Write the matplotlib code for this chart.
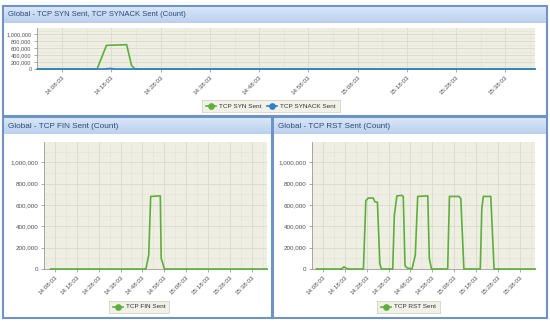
import matplotlib
matplotlib.use("Agg")
import matplotlib.pyplot as plt
import numpy as np
from matplotlib.patches import Rectangle
from matplotlib.colors import LinearSegmentedColormap

W, H = 550, 329

# ---------------- data (minutes after 14:08:03) ----------------
tick_labels = ["14:08:03", "14:18:03", "14:28:03", "14:38:03", "14:48:03",
               "14:58:03", "15:08:03", "15:18:03", "15:28:03", "15:38:03"]
tick_minutes = [0, 10, 20, 30, 40, 50, 60, 70, 80, 90]

syn_t = [-5, 7.1, 9.0, 11.0, 13.1, 14.1, 14.8, 96]
syn_v = [0, 0, 680000, 690000, 700000, 100000, 0, 0]
synack_t = [-5, 8.6, 9.7, 10.8, 96]
synack_v = [0, 0, 15000, 0, 0]

fin_t = [-2, 41.6, 42.9, 43.8, 48.2, 48.6, 50.1, 97]
fin_v = [0, 0, 130000, 680000, 685000, 100000, 0, 0]

rst_t = [-3, 8.5, 9.6, 11.0, 12.0, 18.5, 19.6, 20.7, 23.0, 23.7, 24.9, 26.0, 26.7,
         31.9, 32.6, 33.8, 36.0, 36.7, 37.5, 38.5, 40.7, 42.2, 43.3, 47.9, 48.6, 49.6,
         57.0, 57.8, 62.2, 63.0, 64.4, 71.9, 72.6, 73.3, 76.7, 78.2, 97]
rst_v = [0, 0, 20000, 3000, 0, 0, 640000, 665000, 665000, 630000, 625000, 50000, 0,
         0, 500000, 685000, 690000, 680000, 30000, 10000, 0, 130000, 680000, 685000, 100000, 0,
         0, 680000, 680000, 660000, 0, 0, 570000, 680000, 680000, 0, 0]

y_ticks = [0, 200000, 400000, 600000, 800000, 1000000]
y_labels = ["0", "200,000", "400,000", "600,000", "800,000", "1,000,000"]

GREEN = "#5FAE3C"
BLUE = "#2F7FC8"
BG = "#EEEEE3"
GRID = "#D9D9CC"
BORDER = "#6E93C6"
TITLE_C = "#2A4A78"
TICK_C = "#505050"
FONT = "Liberation Sans"

fig = plt.figure(figsize=(W / 100, H / 100), dpi=100)
fig.patch.set_facecolor("white")
renderer = fig.canvas.get_renderer()


def px_axes(x, y, w, h, **kw):
    return fig.add_axes([x / W, 1 - (y + h) / H, w / W, h / H], **kw)


def fit_text(t, target_px):
    bb = t.get_window_extent(renderer=renderer)
    t.set_fontsize(t.get_fontsize() * target_px / bb.width)


def panel(x, y, w, h, title, title_px):
    fig.patches.append(Rectangle((x / W, 1 - (y + h) / H), w / W, h / H,
                                 transform=fig.transFigure, facecolor="none",
                                 edgecolor=BORDER, linewidth=1.5, zorder=-5))
    tb = px_axes(x + 1, y + 1, w - 2, 16)
    grad = np.linspace(0, 1, 50).reshape(-1, 1)
    cm = LinearSegmentedColormap.from_list("tb", ["#D8E6F8", "#BAD0EE"])
    tb.imshow(grad, aspect="auto", cmap=cm, extent=[0, 1, 0, 1])
    tb.set_axis_off()
    t = tb.text(4 / (w - 2), 0.5, title, transform=tb.transAxes, fontsize=6.5,
                color=TITLE_C, va="center", ha="left", family=FONT)
    fit_text(t, title_px)


def chart(x, y, w, h, xlim, ylim, series, ylabel_fs=4.5):
    ax = px_axes(x, y, w, h)
    ax.set_facecolor(BG)
    for t, v, c in series:
        ax.plot(t, v, color=c, lw=1.2, zorder=3, solid_joinstyle="round", clip_on=False)
    ax.set_xlim(*xlim)
    ax.set_ylim(*ylim)
    ax.set_xticks(tick_minutes)
    ax.set_xticklabels(tick_labels, rotation=45, ha="right", rotation_mode="anchor",
                       fontsize=4.5, color=TICK_C, family=FONT)
    ax.set_yticks(y_ticks)
    ax.set_yticklabels(y_labels, fontsize=ylabel_fs, color=TICK_C, family=FONT)
    ax.set_yticks(np.arange(100000, 1200000, 200000), minor=True)
    ax.set_xticks(np.arange(-5, 100, 5), minor=True)
    ax.grid(True, which="major", color=GRID, lw=0.6)
    ax.grid(True, which="minor", color="#E3E3D8", lw=0.4)
    ax.tick_params(which="major", length=2.5, width=0.5, color="#888888", pad=1.5)
    ax.tick_params(which="minor", length=0)
    for s in ["top", "right"]:
        ax.spines[s].set_visible(False)
    ax.spines["left"].set_color("#9A9A9A")
    ax.spines["left"].set_linewidth(0.6)
    ax.spines["bottom"].set_color("#9A9A9A")
    ax.spines["bottom"].set_linewidth(0.6)
    return ax


def legend_box(cx, cy, items, fs=4.6):
    widths = []
    for label, _ in items:
        tt = fig.text(0, 0, label, fontsize=fs, family=FONT)
        widths.append(tt.get_window_extent(renderer=renderer).width)
        tt.remove()
    total = sum(13 + wd + 5 for wd in widths) + 3
    lax = px_axes(cx - total / 2, cy - 6, total, 12)
    lax.set_xlim(0, total)
    lax.set_ylim(0, 12)
    lax.set_facecolor("#F1F1E8")
    for s in lax.spines.values():
        s.set_color("#D3D3C8")
        s.set_linewidth(0.6)
    lax.set_xticks([])
    lax.set_yticks([])
    xpos = 4
    for (label, c), wd in zip(items, widths):
        lax.plot([xpos, xpos + 10], [6, 6], color=c, lw=1.2)
        lax.plot([xpos + 5], [6], marker="o", ms=3.8, color=c, mec=c)
        lax.text(xpos + 13, 6, label, fontsize=fs, color="#333333", va="center",
                 ha="left", family=FONT)
        xpos += 13 + wd + 5


# ---------------- panels ----------------
panel(3, 6, 544, 110, "Global - TCP SYN Sent, TCP SYNACK Sent (Count)", 178)
panel(3, 117, 269, 201, "Global - TCP FIN Sent (Count)", 110)
panel(273, 117, 274, 201, "Global - TCP RST Sent (Count)", 111)

chart(37, 28, 498, 41, (-5.1, 96), (0, 1180000),
      [(syn_t, syn_v, GREEN), (synack_t, synack_v, BLUE)], ylabel_fs=4.1)
chart(44, 142, 223, 127, (-1.8, 97), (0, 1190000), [(fin_t, fin_v, GREEN)])
chart(312, 142, 223, 127, (-3.1, 96.9), (0, 1190000), [(rst_t, rst_v, GREEN)])

legend_box(271, 106, [("TCP SYN Sent", GREEN), ("TCP SYNACK Sent", BLUE)])
legend_box(139, 307, [("TCP FIN Sent", GREEN)])
legend_box(408, 307, [("TCP RST Sent", GREEN)])

fig.savefig("out.png", dpi=100, facecolor="white")
